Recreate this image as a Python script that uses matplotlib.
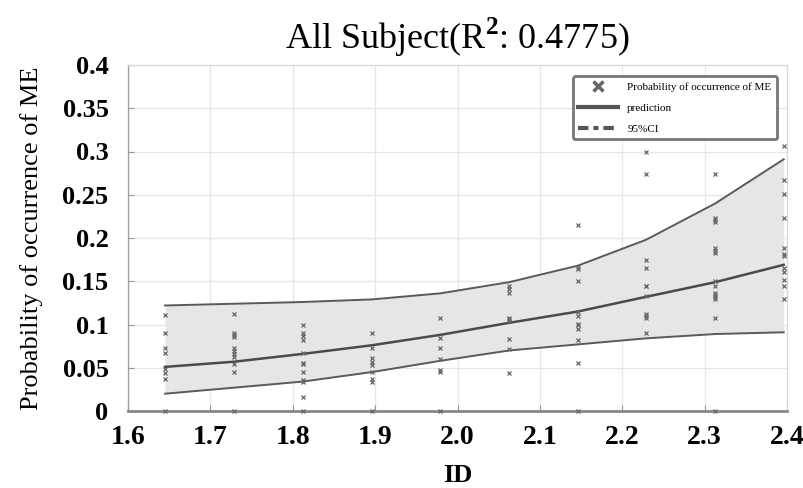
import matplotlib
matplotlib.use("Agg")
import matplotlib.pyplot as plt
from matplotlib.lines import Line2D
import numpy as np

# ---- data ----
id_values = [1.645, 1.729, 1.812, 1.896, 1.979, 2.063, 2.146, 2.229, 2.313, 2.396]
prediction = [0.051, 0.057, 0.066, 0.076, 0.088, 0.102, 0.115, 0.132, 0.149, 0.169]
ci_lower = [0.020, 0.027, 0.034, 0.045, 0.058, 0.070, 0.077, 0.084, 0.089, 0.091]
ci_upper = [0.122, 0.124, 0.126, 0.129, 0.136, 0.149, 0.168, 0.198, 0.240, 0.291]

obs_c1 = [0.111, 0.090, 0.073, 0.067, 0.048, 0.044, 0.037, 0.0]
obs_c2 = [0.112, 0.090, 0.088, 0.085, 0.0725, 0.069, 0.066, 0.063, 0.054, 0.0455, 0.0]
obs_c3 = [0.100, 0.090, 0.087, 0.082, 0.067, 0.056, 0.054, 0.045, 0.036, 0.034, 0.016, 0.0]
obs_c4 = [0.090, 0.0725, 0.061, 0.057, 0.053, 0.0455, 0.037, 0.034, 0.0]
obs_c5 = [0.107, 0.084, 0.0725, 0.060, 0.047, 0.0455, 0.0]
obs_c6 = [0.144, 0.141, 0.136, 0.108, 0.106, 0.104, 0.083, 0.072, 0.044]
obs_c7 = [0.215, 0.167, 0.164, 0.150, 0.114, 0.110, 0.101, 0.099, 0.0945, 0.082, 0.056, 0.0]
obs_c8 = [0.300, 0.274, 0.175, 0.165, 0.145, 0.144, 0.133, 0.112, 0.110, 0.108, 0.090]
obs_c9 = [0.274, 0.223, 0.221, 0.218, 0.188, 0.185, 0.183, 0.150, 0.144, 0.136, 0.134,
          0.132, 0.130, 0.108, 0.0]
obs_c10 = [0.306, 0.267, 0.251, 0.223, 0.188, 0.182, 0.1796, 0.165, 0.161, 0.1514,
           0.1445, 0.130]
observations = [obs_c1, obs_c2, obs_c3, obs_c4, obs_c5, obs_c6, obs_c7, obs_c8, obs_c9, obs_c10]

x_ticks = [1.6, 1.7, 1.8, 1.9, 2.0, 2.1, 2.2, 2.3, 2.4]
x_tick_labels = ["1.6", "1.7", "1.8", "1.9", "2.0", "2.1", "2.2", "2.3", "2.4"]
y_ticks = [0, 0.05, 0.1, 0.15, 0.2, 0.25, 0.3, 0.35, 0.4]
y_tick_labels = ["0", "0.05", "0.1", "0.15", "0.2", "0.25", "0.3", "0.35", "0.4"]

serif = ["Liberation Serif", "DejaVu Serif"]
plt.rcParams["font.family"] = serif
plt.rcParams["mathtext.fontset"] = "custom"
plt.rcParams["mathtext.rm"] = "Liberation Serif"
plt.rcParams["mathtext.bf"] = "Liberation Serif:bold"

fig = plt.figure(figsize=(8.04, 4.88), dpi=100)
ax = fig.add_axes([128 / 804, 77 / 488, 659 / 804, 346 / 488])

# band
ax.fill_between(id_values, ci_lower, ci_upper, color="#e6e6e6", zorder=1, linewidth=0)
ax.plot(id_values, ci_upper, color="#5a5a5a", lw=1.4, zorder=3)
ax.plot(id_values, ci_lower, color="#5a5a5a", lw=1.4, zorder=3)
ax.plot(id_values, prediction, color="#4a4a4a", lw=1.8, zorder=3)

# observations
for xv, col in zip(id_values, observations):
    ax.plot([xv] * len(col), col, linestyle="none", marker="x", ms=2.4, mew=0.9,
            color="#666666", zorder=4, clip_on=False)

ax.set_xlim(1.6, 2.4)
ax.set_ylim(0, 0.4)
ax.set_xticks(x_ticks)
ax.set_xticklabels(x_tick_labels, fontsize=20, fontweight="bold")
ax.set_yticks(y_ticks)
ax.set_yticklabels(y_tick_labels, fontsize=19, fontweight="bold")
ax.tick_params(axis="both", direction="in", length=4, color="#999999", width=0.8)
ax.tick_params(axis="x", pad=10)
ax.tick_params(axis="y", pad=14)

ax.grid(True, color="#e6e6e6", lw=0.9, zorder=0)
ax.set_axisbelow(True)

for side in ["top", "right"]:
    ax.spines[side].set_color("#d8d8d8")
    ax.spines[side].set_linewidth(0.9)
ax.spines["left"].set_color("#a0a0a0")
ax.spines["left"].set_linewidth(1.0)
ax.spines["bottom"].set_color("#888888")
ax.spines["bottom"].set_linewidth(2.0)

ax.set_title(r"All Subject(R$^\mathbf{2}$: 0.4775)", fontsize=26, pad=12)
ax.set_xlabel("ID", fontsize=19, fontweight="bold", labelpad=10)
ax.set_ylabel("Probability of occurrence of ME", fontsize=19, labelpad=14)

handles = [
    Line2D([], [], linestyle="none", marker="x", ms=7, mew=2.5, color="#666666"),
    Line2D([], [], color="#555555", lw=3),
    Line2D([], [], color="#555555", lw=3, dashes=(2.5, 1.2, 1.2, 1.2)),
]
leg = ax.legend(handles, ["Probability of occurrence of ME", "prediction", "95%CI"],
                loc="upper right", bbox_to_anchor=(0.993, 0.983), fontsize=8,
                handlelength=3.6, labelspacing=1.0, borderpad=0.5, fancybox=True,
                framealpha=1, edgecolor="#777777")
leg.get_frame().set_linewidth(2.0)
leg.set_zorder(10)

fig.savefig("out.png", dpi=100)
